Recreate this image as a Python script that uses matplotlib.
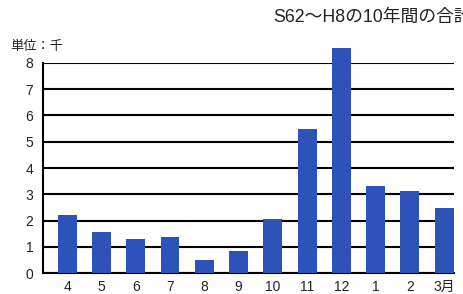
import numpy as np
import matplotlib.pyplot as plt

plt.rcParams['font.family'] = ['Liberation Sans', 'Noto Sans CJK JP', 'DejaVu Sans']

months = ["4", "5", "6", "7", "8", "9", "10", "11", "12", "1", "2", "3月"]
counts = [2.22, 1.58, 1.30, 1.39, 0.52, 0.85, 2.08, 5.50, 8.57, 3.30, 3.13, 2.48]

fig = plt.figure(figsize=(4.64, 2.94), dpi=100)
ax = fig.add_axes([0.093, 0.0705, 0.885, 0.716])

x = np.arange(len(months))
ax.bar(x, counts, width=0.55, color="#2d52b8", clip_on=False, zorder=3)

ax.set_xlim(-0.70, 11.28)
ax.set_ylim(0, 8)
ax.set_yticks(range(0, 9))
ax.set_xticks(x)
ax.set_xticklabels(months)

ax.yaxis.grid(True, color="black", linewidth=1.5)
ax.set_axisbelow(True)
for s in ["top", "right"]:
    ax.spines[s].set_visible(False)
for s in ["left", "bottom"]:
    ax.spines[s].set_linewidth(1.5)
    ax.spines[s].set_color("black")
ax.tick_params(axis="both", length=0, labelsize=10, colors="#222222")
ax.tick_params(axis="y", pad=7)
ax.tick_params(axis="x", pad=5)

fig.text(273 / 464, 1 - 22 / 294, "S62〜H8の10年間の合計", fontsize=12.8,
         va="baseline", ha="left", color="#222222")
fig.text(10 / 464, 1 - 50 / 294, "単位：千", fontsize=9.5,
         va="baseline", ha="left", color="#222222")

fig.savefig("out.png", dpi=100)
